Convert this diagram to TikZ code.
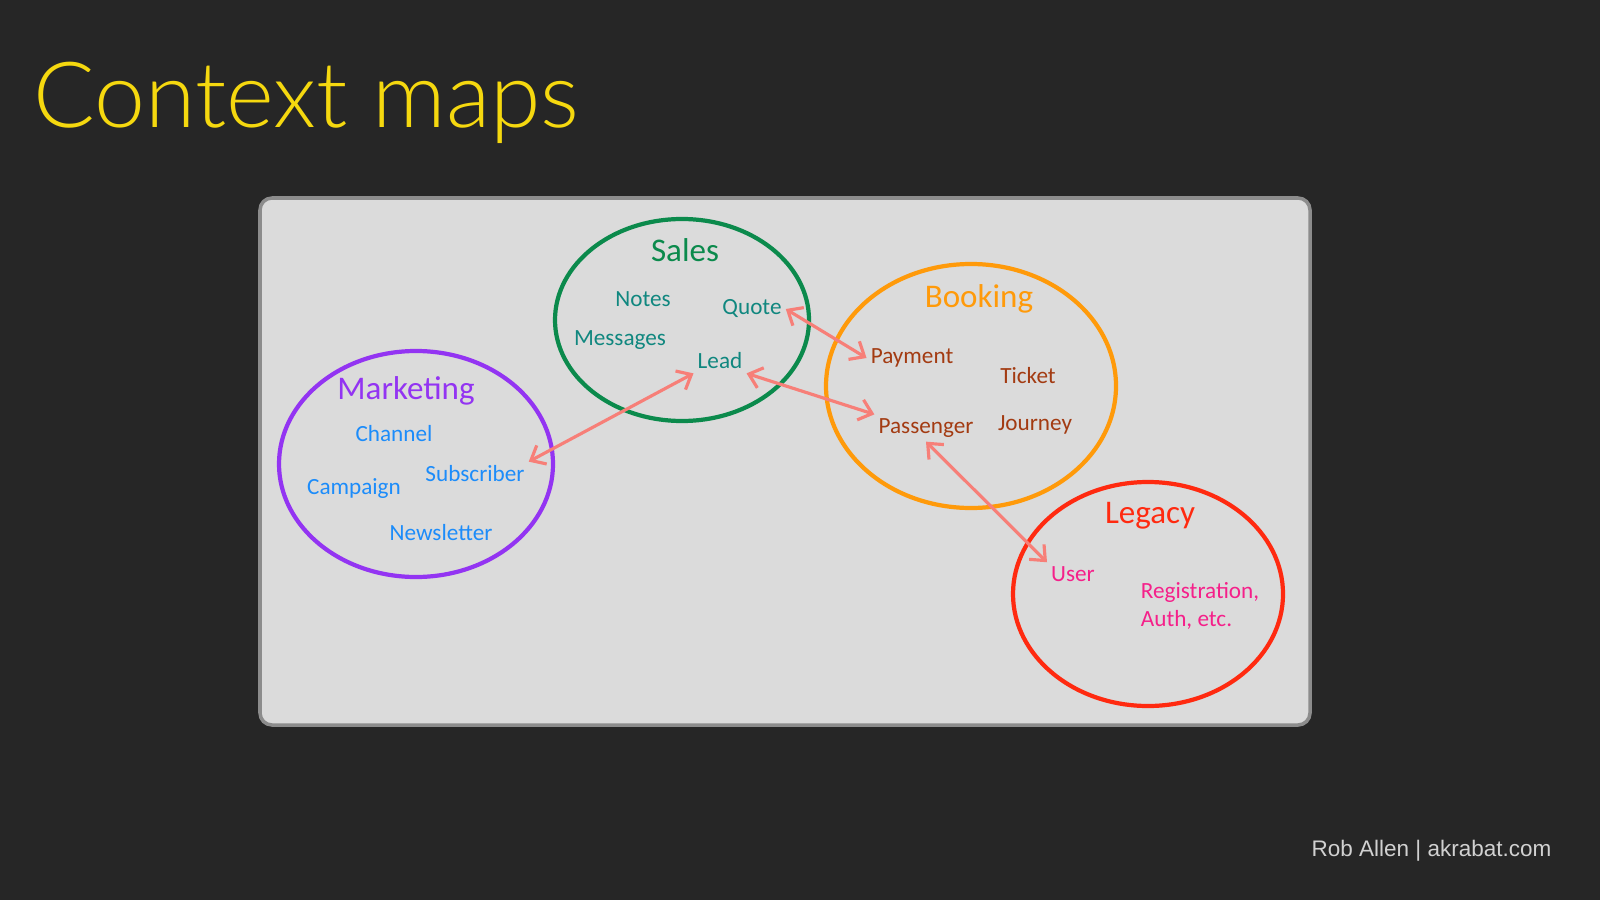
\documentclass[tikz,border=0pt]{standalone}
\usepackage{fontspec}
\setmainfont{Carlito}
\newfontfamily\titlefont{Lato Light}
\newfontfamily\footfont{Liberation Sans}
\usetikzlibrary{arrows.meta}
\definecolor{slide}{HTML}{262626}
\definecolor{board}{HTML}{DBDBDB}
\definecolor{boardline}{HTML}{8C8C8C}
\definecolor{titleyellow}{HTML}{F5D80F}
\definecolor{salesgreen}{HTML}{0B8A4C}
\definecolor{salesteal}{HTML}{10877F}
\definecolor{mktpurple}{HTML}{9334F2}
\definecolor{mktblue}{HTML}{1C8CFA}
\definecolor{bookorange}{HTML}{FF9A0A}
\definecolor{bookbrown}{HTML}{A33B12}
\definecolor{legacyred}{HTML}{FF2A10}
\definecolor{legacypink}{HTML}{F5208A}
\definecolor{link}{HTML}{F77F78}
\tikzset{
  ctx/.style={line width=1.2pt},
  ctxname/.style={font=\fontsize{9.4}{11}\selectfont},
  entity/.style={font=\fontsize{6.6}{8.2}\selectfont, inner sep=1pt},
  rel/.style={link, line width=0.9pt, {Straight Barb[length=3.5pt,width=6pt]}-{Straight Barb[length=3.5pt,width=6pt]}}
}
\begin{document}
\begin{tikzpicture}
\useasboundingbox (0,0) rectangle (16,9);
\fill[slide] (0,0) rectangle (16,9);
\node[anchor=base west, inner sep=0, titleyellow, font=\titlefont\fontsize{26}{30}\selectfont] (title) at(0.33,7.72) {Context maps};
\node[anchor=base east, inner sep=0, black!18, font=\footfont\fontsize{6.4}{8}\selectfont] (footer) at(15.52,0.44) {Rob Allen | akrabat.com};
% board
\draw[boardline, line width=1pt, fill=board, rounded corners=0.12cm] (2.60,1.75) rectangle (13.10,7.02);
% bounded contexts
\draw[ctx, salesgreen] (6.82,5.80) ellipse (1.27 and 1.01);
\draw[ctx, mktpurple] (4.16,4.36) ellipse (1.37 and 1.13);
\draw[ctx, bookorange] (9.71,5.14) ellipse (1.45 and 1.22);
\draw[ctx, legacyred] (11.48,3.06) ellipse (1.35 and 1.12);
% sales
\node[ctxname, salesgreen] (sales) at(6.85,6.50) {Sales};
\node[entity, salesteal] (notes) at(6.43,6.01) {Notes};
\node[entity, salesteal] (messages) at(6.20,5.60) {Messages};
\node[entity, salesteal] (quote) at(7.52,5.91) {Quote};
\node[entity, salesteal] (lead) at(7.20,5.39) {Lead};
% marketing
\node[ctxname, mktpurple] (marketing) at(4.06,5.09) {Marketing};
\node[entity, mktblue] (channel) at(3.94,4.66) {Channel};
\node[entity, mktblue] (campaign) at(3.54,4.11) {Campaign};
\node[entity, mktblue] (subscriber) at(4.75,4.26) {Subscriber};
\node[entity, mktblue] (newsletter) at(4.41,3.67) {Newsletter};
% booking
\node[ctxname, bookorange] (booking) at(9.79,6.01) {Booking};
\node[entity, bookbrown] (payment) at(9.12,5.42) {Payment};
\node[entity, bookbrown] (ticket) at(10.28,5.24) {Ticket};
\node[entity, bookbrown] (passenger) at(9.26,4.72) {Passenger};
\node[entity, bookbrown] (journey) at(10.35,4.75) {Journey};
% legacy
\node[ctxname, legacyred] (legacy) at(11.50,3.84) {Legacy};
\node[entity, legacypink] (user) at(10.73,3.26) {User};
\node[entity, legacypink, align=left] (registration) at(12.00,2.94) {Registration,\\Auth, etc.};
% relationships
\draw[rel] (quote.east) -- (payment.west);
\draw[rel] (lead.south east) -- (passenger.north west);
\draw[rel] (lead.south west) -- (subscriber.north east);
\draw[rel] (passenger.south) -- (user.north west);
\end{tikzpicture}
\end{document}
